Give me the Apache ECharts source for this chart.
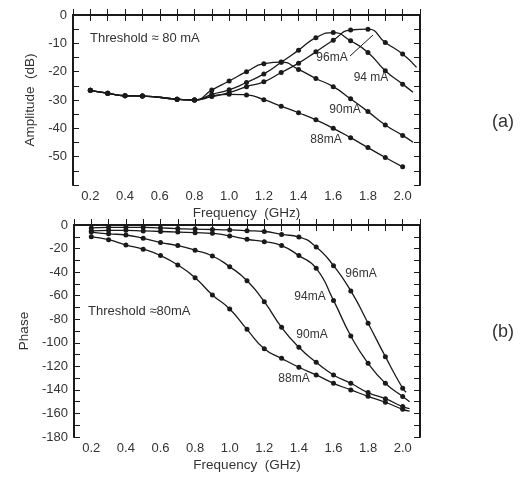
<!DOCTYPE html>
<html>
<head>
<meta charset="utf-8">
<script src="https://cdn.jsdelivr.net/npm/echarts@6/dist/echarts.min.js"></script>
<style>
html,body{margin:0;padding:0;background:#fff;}
#main{width:523px;height:489px;}
</style>
</head>
<body>
<div id="main"></div>
<script>
// (a) amplitude in dB, [frequency GHz, dB]
var ampCommon = [[0.2,-26.6],[0.3,-27.6],[0.4,-28.5],[0.5,-28.6],[0.7,-29.7],[0.8,-30.0]];
var amp88 = [[0.9,-28.6],[1.0,-28.0],[1.1,-28.2],[1.2,-29.9],[1.3,-32.2],[1.4,-34.5],[1.5,-37.0],[1.6,-40.0],[1.7,-43.3],[1.8,-46.8],[1.9,-50.3],[2.0,-53.6]];
var amp90 = [[0.9,-26.5],[1.0,-23.3],[1.1,-20.0],[1.2,-17.2],[1.3,-16.6],[1.4,-19.2],[1.5,-22.4],[1.6,-25.3],[1.7,-29.6],[1.8,-34.1],[1.9,-38.8],[2.0,-42.5]];
var amp94 = [[0.9,-28.0],[1.0,-26.4],[1.1,-23.8],[1.2,-20.8],[1.3,-16.7],[1.4,-12.4],[1.5,-8.0],[1.6,-6.2],[1.7,-9.1],[1.8,-13.2],[1.9,-19.7],[2.0,-24.4]];
var amp96 = [[0.9,-28.8],[1.0,-27.4],[1.1,-25.3],[1.2,-23.6],[1.3,-20.3],[1.4,-17.0],[1.5,-13.0],[1.6,-8.9],[1.7,-5.3],[1.8,-5.0],[1.9,-9.7],[2.0,-13.8]];
// where the drawn curve runs on past the last dot
var ampEnd90 = [2.06,-44.9];
var ampEnd94 = [2.06,-27.3];
var ampEnd96 = [2.08,-18.5];

// (b) phase in degrees
var ph88 = [[0.2,-10],[0.3,-12.5],[0.4,-17],[0.5,-20.5],[0.6,-26],[0.7,-34],[0.8,-44.7],[0.9,-59.4],[1.0,-71.3],[1.1,-88.6],[1.2,-105],[1.3,-113.2],[1.4,-120.8],[1.5,-127.3],[1.6,-134.4],[1.7,-140],[1.8,-145.5],[1.9,-150.5],[2.0,-156.5]];
var ph90 = [[0.2,-6],[0.3,-7.5],[0.4,-8.5],[0.5,-11.3],[0.6,-14.9],[0.7,-17.5],[0.8,-21.5],[0.9,-26.3],[1.0,-35.4],[1.1,-47.3],[1.2,-65.1],[1.3,-86.9],[1.4,-103.8],[1.5,-116.6],[1.6,-127.3],[1.7,-134.4],[1.8,-142.3],[1.9,-147.5],[2.0,-154.2]];
var ph94 = [[0.2,-5],[0.3,-4.5],[0.4,-4.5],[0.5,-5],[0.6,-5.5],[0.7,-6],[0.8,-6.5],[0.9,-7.1],[1.0,-9.3],[1.1,-12.1],[1.2,-14.2],[1.3,-17.5],[1.4,-26],[1.5,-36.8],[1.6,-64],[1.7,-94.2],[1.8,-117.4],[1.9,-134.4],[2.0,-145.7]];
var ph96 = [[0.2,-2.5],[0.3,-2],[0.4,-2],[0.5,-2],[0.6,-2.5],[0.7,-3],[0.8,-3.5],[0.9,-3.8],[1.0,-4.2],[1.1,-4.8],[1.2,-5.5],[1.3,-8],[1.4,-10.2],[1.5,-18.6],[1.6,-34.5],[1.7,-56],[1.8,-83.4],[1.9,-111.8],[2.0,-138.6]];
var phEnd88 = [2.04,-158];
var phEnd90 = [2.04,-156];
var phEnd94 = [2.04,-150];
var phEnd96 = [2.02,-142];

var ink = '#1a1a1a';
var fontFam = 'Liberation Sans';

function curve(name, pts, end, idx) {
	var data = pts.slice();
	if (end) data.push({value: end, symbol: 'none'});
	return {
		name: name,
		type: 'line',
		xAxisIndex: idx,
		yAxisIndex: idx,
		data: data,
		smooth: 0.55,
		symbol: 'circle',
		symbolSize: 5,
		showAllSymbol: true,
		lineStyle: {color: ink, width: 1.3},
		itemStyle: {color: ink},
		z: 3
	};
}

function freqAxis(grid, top) {
	return {
		type: 'value', gridIndex: grid, position: top ? 'top' : 'bottom',
		min: 0.1, max: 2.1, interval: 0.1,
		name: top ? '' : 'Frequency  (GHz)',
		nameLocation: 'middle', nameGap: 21,
		nameTextStyle: {color: '#333', fontSize: 13.5, fontFamily: fontFam},
		axisLine: {show: true, lineStyle: {color: ink, width: 2}},
		axisTick: {show: true, inside: true, length: 6, lineStyle: {color: ink, width: 1}},
		axisLabel: {
			show: !top, color: '#333', fontSize: 13, fontFamily: fontFam, margin: 5,
			formatter: function (v) {
				var k = Math.round(v * 10);
				return (k % 2 === 0) ? (k / 10).toFixed(1) : '';
			}
		},
		splitLine: {show: false}
	};
}

function valAxis(grid, right, min, step, name, gap) {
	return {
		type: 'value', gridIndex: grid, position: right ? 'right' : 'left',
		min: min, max: 0, interval: step,
		name: right ? '' : name,
		nameLocation: 'middle', nameGap: gap, nameRotate: 90,
		nameTextStyle: {color: '#333', fontSize: 13.5, fontFamily: fontFam},
		axisLine: {show: true, lineStyle: {color: ink, width: 2}},
		axisTick: {show: true, inside: true, length: 6, lineStyle: {color: ink, width: 1}},
		minorTick: {show: true, splitNumber: 2, length: 6, lineStyle: {color: ink, width: 1}},
		axisLabel: {
			show: !right, color: '#333', fontSize: 13, fontFamily: fontFam, margin: 6,
			formatter: function (v) { return (v === -60 && min === -60) ? '' : String(v); }
		},
		splitLine: {show: false}
	};
}

function label(txt, x, y, size, align) {
	return {
		type: 'text', x: x, y: y, z: 10,
		style: {text: txt, fill: '#333', font: size + 'px "' + fontFam + '"', align: align || 'center', verticalAlign: 'middle'}
	};
}

var chart = echarts.init(document.getElementById('main'));
chart.setOption({
	animation: false,
	backgroundColor: '#fff',
	grid: [
		{left: 73, width: 347, top: 15, height: 170, outerBoundsMode: 'none'},
		{left: 74, width: 346, top: 225, height: 212, outerBoundsMode: 'none'}
	],
	xAxis: [freqAxis(0, false), freqAxis(0, true), freqAxis(1, false), freqAxis(1, true)],
	yAxis: [
		valAxis(0, false, -60, 10, 'Amplitude  (dB)', 36),
		valAxis(0, true, -60, 10, '', 0),
		valAxis(1, false, -180, 20, 'Phase', 37),
		valAxis(1, true, -180, 20, '', 0)
	],
	series: [
		curve('88mA', ampCommon.concat(amp88), null, 0),
		curve('90mA', ampCommon.concat(amp90), ampEnd90, 0),
		curve('94mA', ampCommon.concat(amp94), ampEnd94, 0),
		curve('96mA', ampCommon.concat(amp96), ampEnd96, 0),
		curve('88mA', ph88, phEnd88, 2),
		curve('90mA', ph90, phEnd90, 2),
		curve('94mA', ph94, phEnd94, 2),
		curve('96mA', ph96, phEnd96, 2)
	],
	graphic: [
		label('Threshold ≈ 80 mA', 90, 38, 13, 'left'),
		label('96mA', 332, 58, 12),
		label('94 mA', 371, 78, 12),
		label('90mA', 345, 110, 12),
		label('88mA', 326, 140, 12),
		{type: 'line', z: 10, shape: {x1: 350, y1: 56, x2: 373, y2: 35}, style: {stroke: ink, lineWidth: 1}},
		label('(a)', 503, 122, 18),
		label('Threshold ≈80mA', 88, 311, 13, 'left'),
		label('96mA', 361, 274, 12),
		label('94mA', 310, 297, 12),
		label('90mA', 312, 335, 12),
		label('88mA', 294, 379, 12),
		label('(b)', 503, 332, 18)
	]
});
</script>
</body>
</html>
